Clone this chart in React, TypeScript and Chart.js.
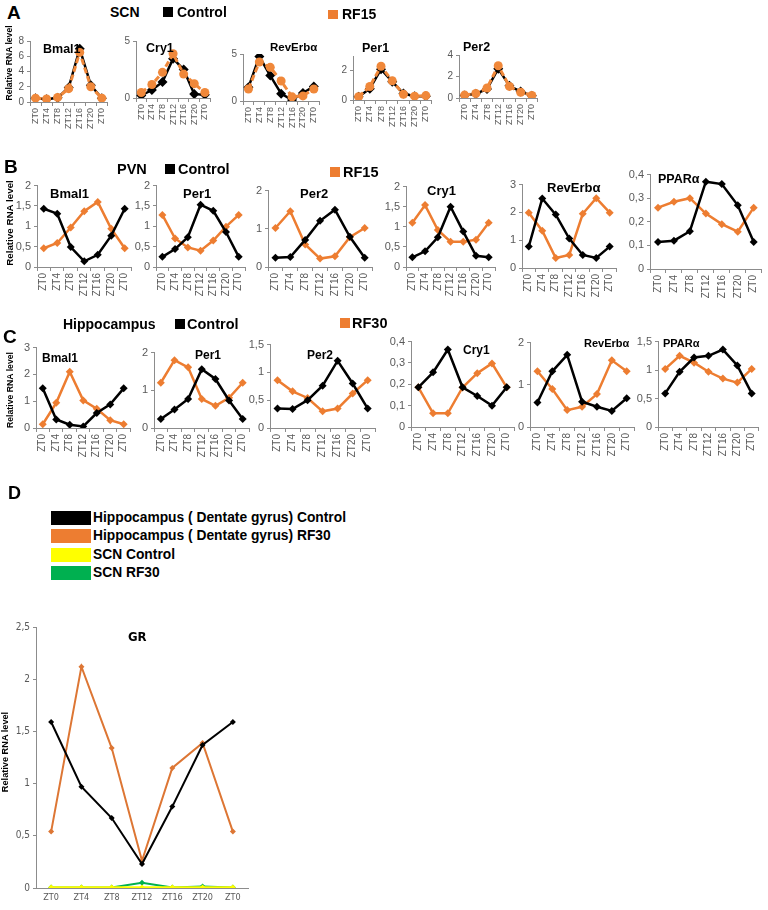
import React, { useEffect, useRef } from "react";
import { Chart, registerables } from "chart.js";
Chart.register(...registerables);

// ---------- categories ----------
const ztLabels = ["ZT0", "ZT4", "ZT8", "ZT12", "ZT16", "ZT20", "ZT0"];

// ---------- Panel A: SCN (Control vs RF15) ----------
const scnBmal1Ctrl = [0.5, 0.35, 0.55, 1.9, 7.0, 2.2, 0.5];
const scnBmal1RF15 = [0.5, 0.4, 0.6, 1.75, 6.5, 2.0, 0.5];
const scnCry1Ctrl = [0.22, 0.7, 1.4, 3.45, 2.5, 0.34, 0.28];
const scnCry1RF15 = [0.48, 1.18, 2.25, 3.88, 2.1, 1.26, 0.48];
const scnRevCtrl = [1.45, 4.73, 2.7, 0.78, 0.1, 0.85, 1.55];
const scnRevRF15 = [1.28, 4.15, 3.58, 2.13, 0.44, 0.54, 1.28];
const scnPer1Ctrl = [0.22, 0.77, 2.1, 1.25, 0.44, 0.26, 0.26];
const scnPer1RF15 = [0.22, 0.92, 2.3, 1.31, 0.39, 0.26, 0.3];
const scnPer2Ctrl = [0.24, 0.39, 0.84, 2.73, 1.14, 0.6, 0.21];
const scnPer2RF15 = [0.27, 0.42, 0.93, 3.0, 1.08, 0.54, 0.24];

// ---------- Panel B: PVN (Control vs RF15) ----------
const pvnBmal1Ctrl = [1.43, 1.31, 0.49, 0.14, 0.3, 0.77, 1.43];
const pvnBmal1RF15 = [0.46, 0.59, 0.97, 1.37, 1.6, 0.94, 0.46];
const pvnPer1Ctrl = [0.25, 0.44, 0.73, 1.53, 1.38, 0.86, 0.25];
const pvnPer1RF15 = [1.28, 0.7, 0.48, 0.4, 0.65, 0.99, 1.28];
const pvnPer2Ctrl = [0.24, 0.26, 0.71, 1.21, 1.5, 0.79, 0.24];
const pvnPer2RF15 = [1.02, 1.46, 0.59, 0.22, 0.28, 0.78, 1.02];
const pvnCry1Ctrl = [0.24, 0.39, 0.74, 1.5, 0.88, 0.28, 0.24];
const pvnCry1RF15 = [1.1, 1.54, 0.92, 0.63, 0.63, 0.68, 1.1];
const pvnRevCtrl = [0.77, 2.5, 1.92, 1.06, 0.47, 0.36, 0.77];
const pvnRevRF15 = [1.99, 1.34, 0.36, 0.47, 1.95, 2.51, 1.99];
const pvnPparCtrl = [0.114, 0.12, 0.16, 0.37, 0.36, 0.27, 0.114];
const pvnPparRF15 = [0.26, 0.285, 0.3, 0.235, 0.19, 0.158, 0.26];

// ---------- Panel C: Hippocampus (Control vs RF30) ----------
const hipBmal1Ctrl = [1.48, 0.32, 0.12, 0.06, 0.56, 0.88, 1.48];
const hipBmal1RF30 = [0.14, 0.94, 2.1, 1.03, 0.72, 0.29, 0.14];
const hipPer1Ctrl = [0.24, 0.49, 0.77, 1.56, 1.3, 0.73, 0.24];
const hipPer1RF30 = [1.2, 1.8, 1.61, 0.77, 0.59, 0.8, 1.2];
const hipPer2Ctrl = [0.35, 0.34, 0.5, 0.76, 1.21, 0.8, 0.35];
const hipPer2RF30 = [0.86, 0.66, 0.54, 0.3, 0.35, 0.62, 0.86];
const hipCry1Ctrl = [0.186, 0.256, 0.363, 0.186, 0.145, 0.1, 0.186];
const hipCry1RF30 = [0.186, 0.064, 0.064, 0.185, 0.252, 0.298, 0.186];
const hipRevCtrl = [0.58, 1.32, 1.71, 0.6, 0.48, 0.38, 0.68];
const hipRevRF30 = [1.32, 0.9, 0.4, 0.48, 0.78, 1.58, 1.32];
const hipPparCtrl = [0.59, 0.97, 1.22, 1.25, 1.36, 1.08, 0.59];
const hipPparRF30 = [1.02, 1.25, 1.13, 0.97, 0.85, 0.78, 1.02];

// ---------- Panel D: GR ----------
const grHipCtrl = [1.59, 0.97, 0.67, 0.23, 0.78, 1.37, 1.59];
const grHipRF30 = [0.54, 2.12, 1.34, 0.26, 1.15, 1.39, 0.54];
const grScnCtrl = [0.005, 0.005, 0.005, 0.005, 0.005, 0.005, 0.005];
const grScnRF30 = [0.005, 0.005, 0.005, 0.05, 0.005, 0.015, 0.005];

const legendD = [
  "Hippocampus ( Dentate gyrus) Control",
  "Hippocampus ( Dentate gyrus) RF30",
  "SCN Control",
  "SCN RF30",
];

// ---------- styles ----------
const BLACK = "#000000";
const ORANGE = "#ED7D31";
const ORANGE_A = "#F0883A";
const ORANGE_D = "#DD7634";
const YELLOW = "#FFFF00";
const GREEN = "#00B050";
const AXIS = "#8C8C8C";
const TICK = "#595959";
const FONT = "'Liberation Sans', Arial, sans-serif";
const NARROW = "'Liberation Sans Narrow', 'DejaVu Sans Condensed', 'Liberation Sans', sans-serif";

type Series = {
  data: number[];
  color: string;
  dash?: number[];
  style: string;
  radius: number;
  width: number;
};

type Spec = {
  x0: number; x1: number; yTop: number; yBot: number;
  max: number; step: number;
  series: Series[];
  yFont: number; xFont: number; rotate: boolean;
  family?: string; xTicks?: boolean;
};

const fmt = (v: any) => String(Number(Number(v).toFixed(3))).replace(".", ",");

function ChartBox({ spec }: { spec: Spec }) {
  const ref = useRef<HTMLCanvasElement | null>(null);
  const yw = 24;
  const padTop = 7;
  const xh = spec.rotate ? 38 : 22;
  const left = spec.x0 - yw;
  const top = spec.yTop - padTop;
  const width = Math.round(spec.x1 - left + 1);
  const height = Math.round(spec.yBot - top + xh);
  useEffect(() => {
    if (!ref.current) return;
    const fam = spec.family || FONT;
    const chart = new Chart(ref.current, {
      type: "line",
      data: {
        labels: ztLabels,
        datasets: spec.series.map((s) => ({
          data: s.data,
          borderColor: s.color,
          backgroundColor: s.color,
          borderWidth: s.width,
          borderDash: s.dash || [],
          pointStyle: s.style as any,
          pointRadius: s.radius,
          pointBackgroundColor: s.color,
          pointBorderColor: s.color,
          pointBorderWidth: 0,
          tension: 0,
          fill: false,
        })),
      },
      options: {
        responsive: false,
        animation: false,
        devicePixelRatio: 1,
        events: [],
        layout: { padding: { top: padTop, right: 1, left: 0, bottom: 0 } },
        plugins: { legend: { display: false }, tooltip: { enabled: false }, title: { display: false } },
        scales: {
          x: {
            type: "category",
            offset: true,
            grid: {
              display: true,
              offset: true,
              drawOnChartArea: false,
              drawTicks: spec.xTicks !== false,
              tickLength: spec.xTicks !== false ? 4 : 0,
              color: AXIS,
            },
            border: { display: true, color: AXIS, width: 1 },
            ticks: {
              autoSkip: false,
              minRotation: spec.rotate ? 90 : 0,
              maxRotation: spec.rotate ? 90 : 0,
              font: { size: spec.xFont, family: fam },
              color: TICK,
              padding: spec.rotate ? 2 : 4,
            },
            afterFit: (s: any) => { s.height = xh; },
          },
          y: {
            min: 0,
            max: spec.max,
            ticks: {
              stepSize: spec.step,
              callback: fmt,
              font: { size: spec.yFont, family: fam },
              color: TICK,
              padding: 3,
            },
            grid: { display: true, drawOnChartArea: false, drawTicks: true, tickLength: 3, color: AXIS },
            border: { display: true, color: AXIS, width: 1 },
            afterFit: (s: any) => { s.width = yw; },
          },
        },
      },
    });
    return () => chart.destroy();
  }, []);
  return (
    <canvas
      ref={ref}
      width={width}
      height={height}
      style={{ position: "absolute", left, top, width, height }}
    />
  );
}

function Txt({ x, cy, size, text, bold = true, family = FONT }: any) {
  return (
    <div
      style={{
        position: "absolute",
        left: x,
        top: cy,
        transform: "translateY(-50%)",
        fontFamily: family,
        fontSize: size,
        fontWeight: bold ? 700 : 400,
        lineHeight: 1,
        whiteSpace: "nowrap",
        color: "#000",
      }}
    >
      {text}
    </div>
  );
}

function VTxt({ cx, cy, size, text }: any) {
  return (
    <div
      style={{
        position: "absolute",
        left: cx,
        top: cy,
        transform: "translate(-50%, -50%) rotate(-90deg)",
        fontFamily: FONT,
        fontSize: size,
        fontWeight: 700,
        lineHeight: 1,
        whiteSpace: "nowrap",
        color: "#000",
      }}
    >
      {text}
    </div>
  );
}

function Sq({ x, y, w, h, color }: any) {
  return <div style={{ position: "absolute", left: x, top: y, width: w, height: h, background: color }} />;
}

const aSeries = (c: number[], r: number[]): Series[] => [
  { data: r, color: ORANGE_A, dash: [6, 3], style: "circle", radius: 4.5, width: 3 },
  { data: c, color: BLACK, style: "rectRot", radius: 5, width: 2.5 },
];
const bcSeries = (c: number[], r: number[]): Series[] => [
  { data: c, color: BLACK, style: "rectRot", radius: 4, width: 2.5 },
  { data: r, color: ORANGE, style: "rectRot", radius: 4, width: 2.5 },
];

const A = (x0: number, x1: number, yTop: number, yBot: number, max: number, step: number, c: number[], r: number[]): Spec =>
  ({ x0, x1, yTop, yBot, max, step, series: aSeries(c, r), yFont: 10, xFont: 9, rotate: true });
const BC = (x0: number, x1: number, yTop: number, yBot: number, max: number, step: number, c: number[], r: number[]): Spec =>
  ({ x0, x1, yTop, yBot, max, step, series: bcSeries(c, r), yFont: 11, xFont: 10, rotate: true });

const specs: Spec[] = [
  A(30, 114, 39, 101.5, 8, 2, scnBmal1Ctrl, scnBmal1RF15),
  A(136, 217, 39, 98, 5, 5, scnCry1Ctrl, scnCry1RF15),
  A(243, 326, 51.7, 101, 5, 5, scnRevCtrl, scnRevRF15),
  A(353, 438, 54.3, 100, 3, 1, scnPer1Ctrl, scnPer1RF15),
  A(459, 544, 53, 97.7, 4, 1, scnPer2Ctrl, scnPer2RF15),

  BC(37, 138, 183, 267, 2, 0.5, pvnBmal1Ctrl, pvnBmal1RF15),
  BC(156, 252, 183, 267, 2, 0.5, pvnPer1Ctrl, pvnPer1RF15),
  BC(268, 378, 188, 267, 2, 1, pvnPer2Ctrl, pvnPer2RF15),
  BC(406, 502, 184, 267, 2, 0.5, pvnCry1Ctrl, pvnCry1RF15),
  BC(522, 623, 182, 268, 3, 1, pvnRevCtrl, pvnRevRF15),
  BC(650, 767, 172, 269, 0.4, 0.1, pvnPparCtrl, pvnPparRF15),

  BC(36, 137, 345, 428, 3, 1, hipBmal1Ctrl, hipBmal1RF30),
  BC(154, 256, 350, 428, 2, 1, hipPer1Ctrl, hipPer1RF30),
  BC(270, 381, 342, 428, 1.5, 0.5, hipPer2Ctrl, hipPer2RF30),
  BC(411, 520, 339, 427, 0.4, 0.1, hipCry1Ctrl, hipCry1RF30),
  BC(530, 640, 340, 427, 2, 1, hipRevCtrl, hipRevRF30),
  BC(658, 765, 339, 427, 1.5, 0.5, hipPparCtrl, hipPparRF30),

  {
    x0: 36, x1: 251, yTop: 625, yBot: 888, max: 2.5, step: 0.5,
    series: [
      { data: grScnCtrl, color: YELLOW, style: "rectRot", radius: 3, width: 2.5 },
      { data: grHipCtrl, color: BLACK, style: "rectRot", radius: 3, width: 2 },
      { data: grHipRF30, color: ORANGE_D, style: "rectRot", radius: 3, width: 2 },
      { data: grScnRF30, color: GREEN, style: "rectRot", radius: 3, width: 2 },
    ],
    yFont: 10, xFont: 9, rotate: false, family: NARROW, xTicks: false,
  },
];

const titles: [string, number, number, number][] = [
  ["Bmal1", 43, 49, 12.5], ["Cry1", 146, 48, 12.5], ["RevErbα", 270, 48, 11.5], ["Per1", 362, 48, 12.5], ["Per2", 463, 47, 12.5],
  ["Bmal1", 50, 193, 13], ["Per1", 183, 193, 13], ["Per2", 300, 193, 13], ["Cry1", 427, 190, 13], ["RevErbα", 547, 187, 13], ["PPARα", 658, 179, 12.5],
  ["Bmal1", 42, 358, 12], ["Per1", 195, 355, 12], ["Per2", 307, 355, 12], ["Cry1", 463, 350, 12], ["RevErbα", 584, 343, 11], ["PPARα", 663, 343, 11],
];

export default function App() {
  return (
    <div style={{ position: "absolute", left: 0, top: 0, width: 768, height: 910, background: "#fff", overflow: "hidden" }}>
      {specs.map((s, i) => <ChartBox key={i} spec={s} />)}
      {titles.map(([t, x, cy, sz], i) => <Txt key={"t" + i} x={x} cy={cy} size={sz} text={t} />)}

      {/* Panel A header */}
      <Txt x={7} cy={12} size={19} text="A" />
      <Txt x={110} cy={12} size={14} text="SCN" />
      <Sq x={163} y={7} w={10} h={10} color={BLACK} />
      <Txt x={177} cy={12} size={14} text="Control" />
      <Sq x={328} y={10} w={10} h={9} color={ORANGE} />
      <Txt x={342} cy={14} size={14} text="RF15" />
      <VTxt cx={9} cy={63} size={8.6} text="Relative RNA level" />

      {/* Panel B header */}
      <Txt x={4} cy={166} size={19} text="B" />
      <Txt x={117} cy={169} size={14.5} text="PVN" />
      <Sq x={165} y={164} w={10} h={10} color={BLACK} />
      <Txt x={178} cy={169} size={14.5} text="Control" />
      <Sq x={330} y={167} w={10} h={10} color={ORANGE} />
      <Txt x={343} cy={172} size={14.5} text="RF15" />
      <VTxt cx={10} cy={223} size={9.8} text="Relative RNA level" />

      {/* Panel C header */}
      <Txt x={3} cy={336} size={19} text="C" />
      <Txt x={63} cy={324} size={14} text="Hippocampus" />
      <Sq x={175} y={319} w={10} h={10} color={BLACK} />
      <Txt x={187} cy={324} size={14.5} text="Control" />
      <Sq x={340} y={318} w={10} h={10} color={ORANGE} />
      <Txt x={352} cy={323} size={14.5} text="RF30" />
      <VTxt cx={10} cy={390} size={8.7} text="Relative RNA level" />

      {/* Panel D */}
      <Txt x={8} cy={493} size={18} text="D" />
      {legendD.map((t, i) => {
        const ys = [511, 529, 548, 566];
        const cols = [BLACK, ORANGE, YELLOW, GREEN];
        return (
          <React.Fragment key={"l" + i}>
            <Sq x={51} y={ys[i]} w={40} h={14} color={cols[i]} />
            <Txt x={93} cy={ys[i] + 7} size={13.8} text={t} />
          </React.Fragment>
        );
      })}
      <Txt x={128} cy={636} size={13} text="GR" family={NARROW} />
      <VTxt cx={6} cy={752} size={9.2} text="Relative RNA level" />
    </div>
  );
}
